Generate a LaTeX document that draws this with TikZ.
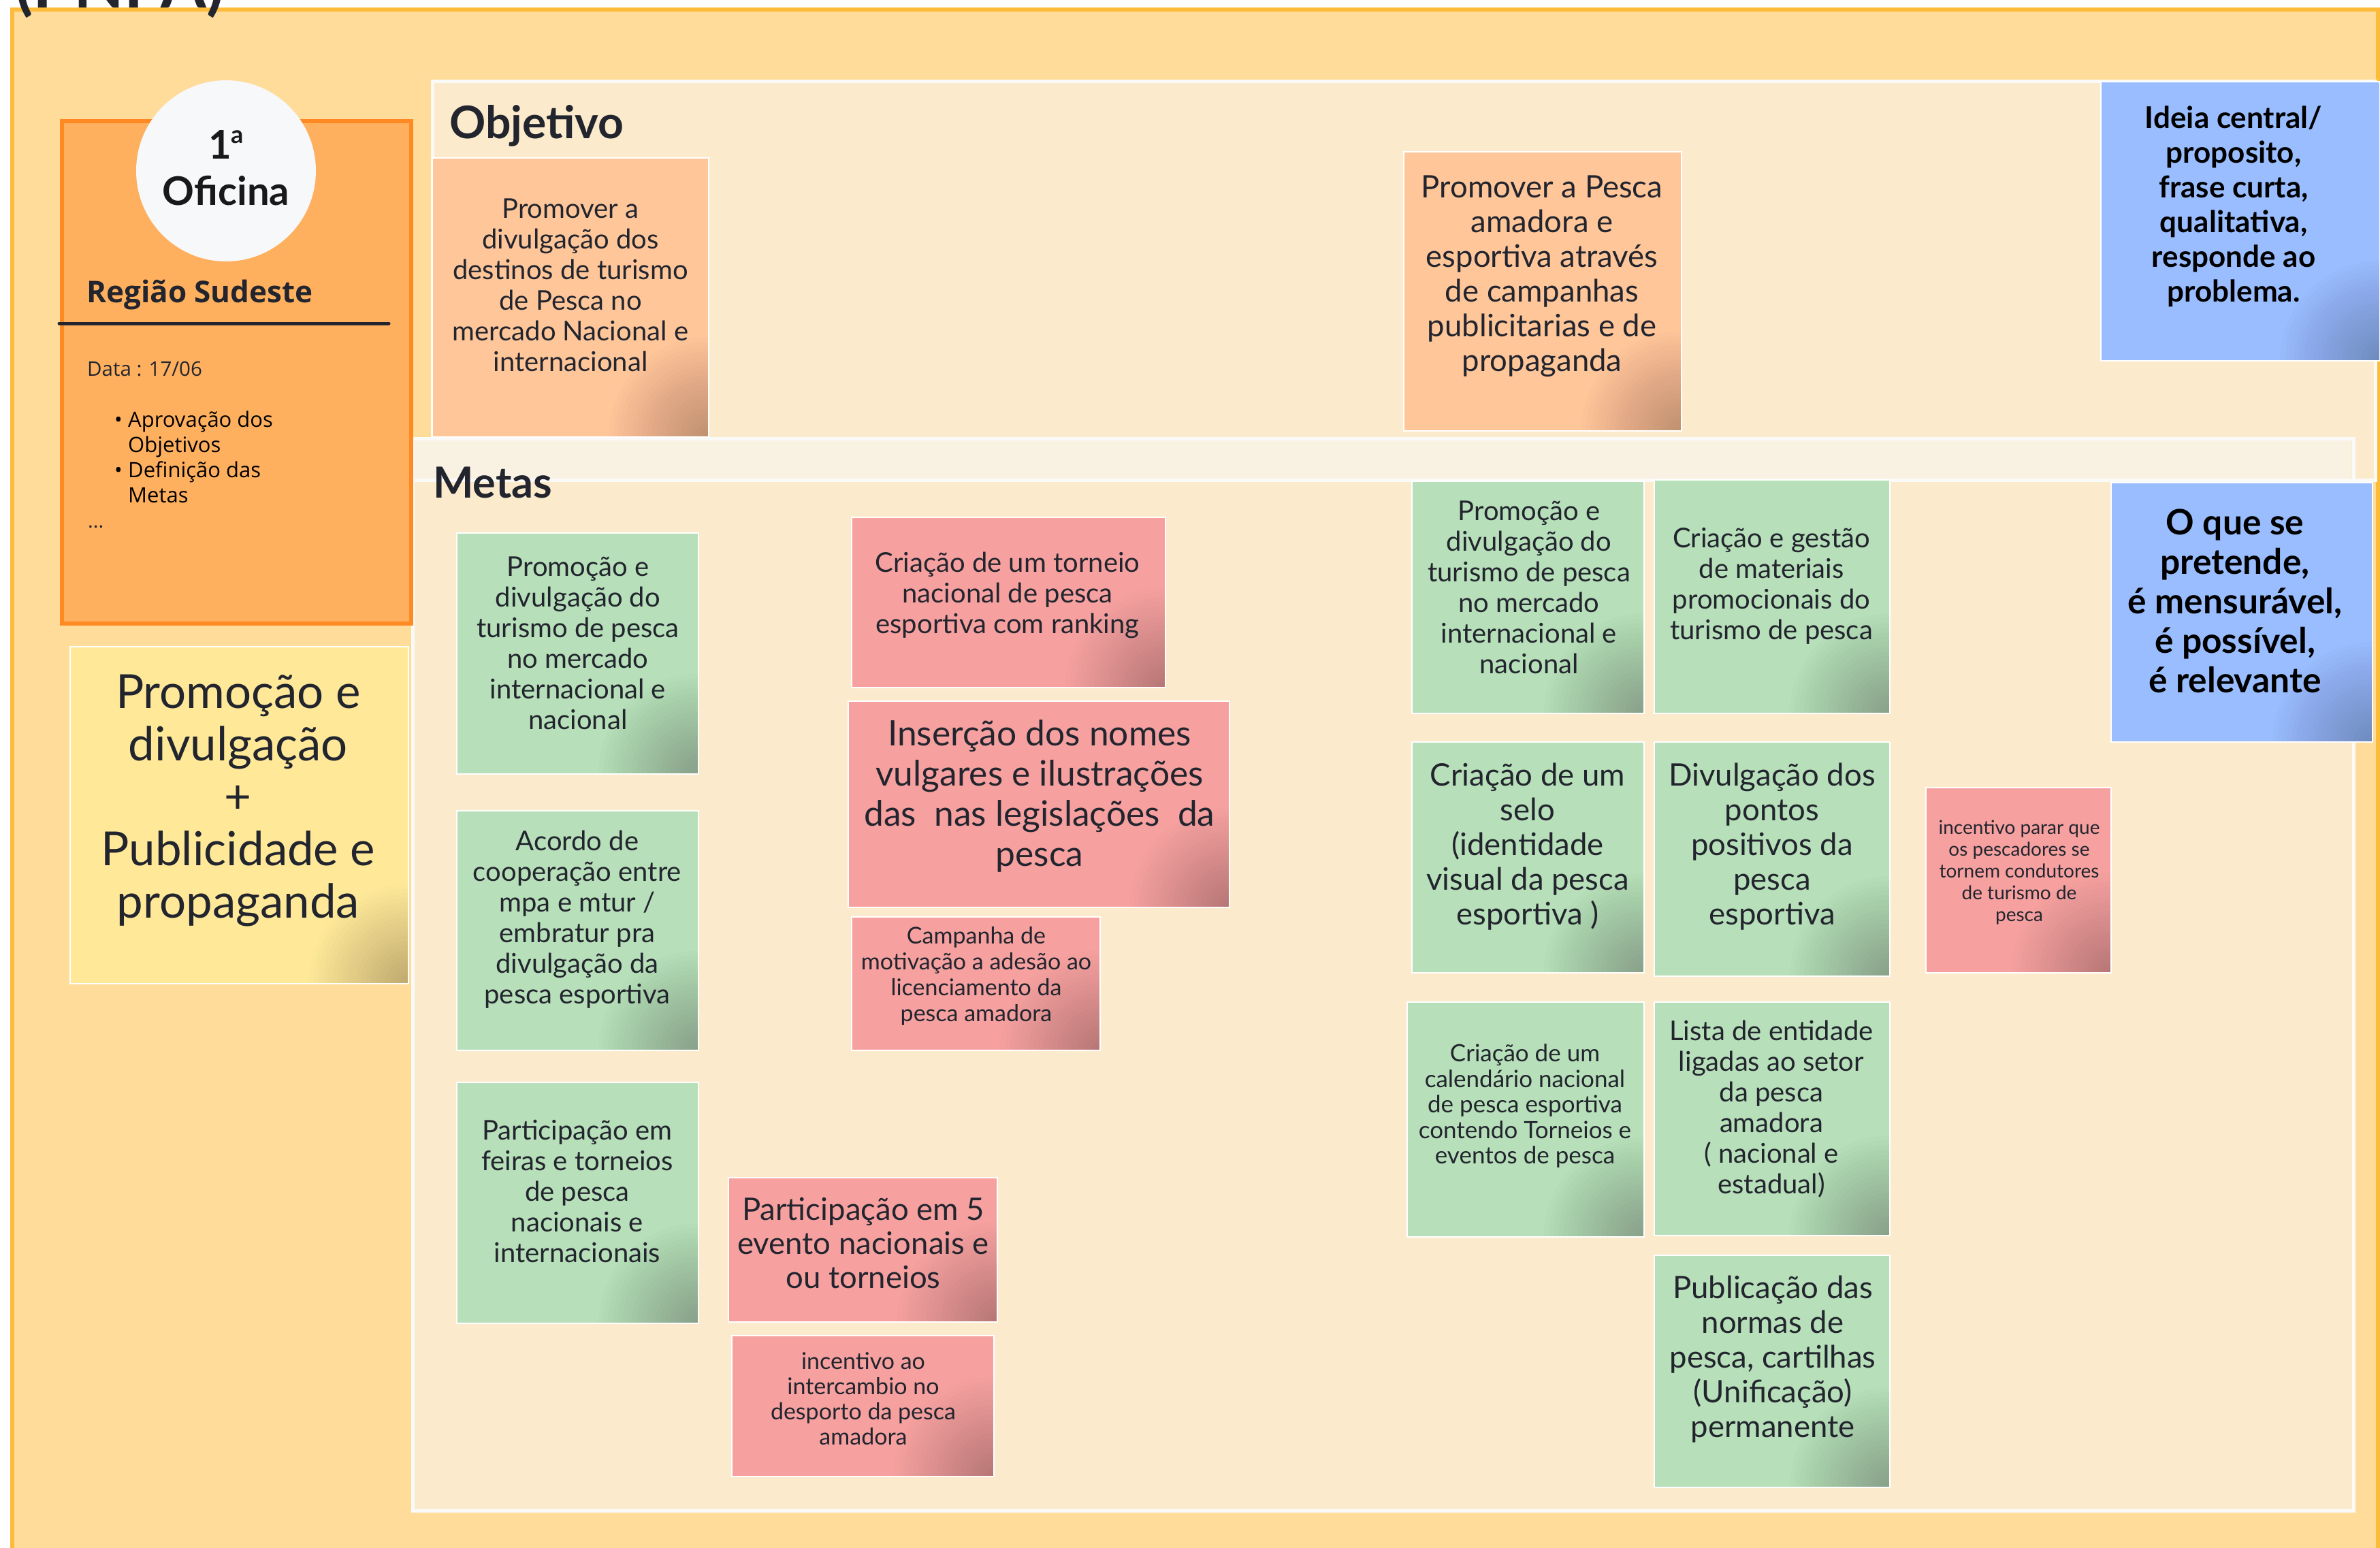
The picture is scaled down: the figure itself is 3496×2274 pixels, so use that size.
\documentclass[tikz,border=0pt]{standalone}
\usepackage{fontspec}
\setmainfont{Lato}
\newfontfamily\opensans{Open Sans}
\usetikzlibrary{positioning,shapes.geometric}
\definecolor{ink}{HTML}{22252E}
\definecolor{outerfill}{HTML}{FFDC9A}
\definecolor{outerline}{HTML}{FDBB3A}
\definecolor{frame}{HTML}{FBEBCC}
\definecolor{band}{HTML}{F9F2E3}
\definecolor{frameline}{HTML}{FAFAF8}
\definecolor{ofifill}{HTML}{FFB05E}
\definecolor{ofiline}{HTML}{FF8A24}
\definecolor{circ}{HTML}{F7F8FA}
\definecolor{yel}{HTML}{FFE999}
\definecolor{peach}{HTML}{FFC69A}
\definecolor{gr}{HTML}{B7DFB9}
\definecolor{rd}{HTML}{F6A1A0}
\definecolor{bl}{HTML}{99BDFE}
\newcommand\fsz[2]{\fontsize{#1}{#2}\selectfont}
\tikzset{
  note/.style={rectangle, draw=white, line width=2.5pt, fill=#1, inner sep=0pt,
    path picture={\foreach \rr in {7,14,...,147}
      {\fill[black, opacity=0.011] (path picture bounding box.south east) circle (\rr pt);}}},
  txt/.style={align=center, text=ink, inner sep=0pt},
}
\begin{document}
\begin{tikzpicture}[x=1pt,y=-1pt]
\useasboundingbox (0,0) rectangle (3496,2274);
\fill[white] (0,0) rectangle (3496,2274);
% outer frame
\draw[fill=outerfill, draw=outerline, line width=6pt] (18,14) rectangle (3493,2300);
% title (cut off by the page edge, as in the reference)
\node[anchor=base west, inner sep=0pt, text=ink, font=\bfseries\fsz{96}{106}] (title) at (22,12) {(PNPA)};
% frames
\draw[fill=frame, draw=frameline, line width=5pt] (635,120) rectangle (3489,705);
\draw[fill=frame, draw=frameline, line width=5pt] (606,644) rectangle (3457,2219);
\fill[band] (609,647) rectangle (3454,703);
\draw[frameline, line width=5pt] (606,705) -- (3489,705);
\node[anchor=west, text=ink, inner sep=0pt, font=\bfseries\fsz{66}{74}] (objlabel) at (660,185) {Objetivo};
\node[anchor=west, text=ink, inner sep=0pt, font=\bfseries\fsz{63}{70}] (metlabel) at (636,709) {Metas};
% oficina panel
\draw[fill=ofifill, draw=ofiline, line width=6pt] (91,178) rectangle (604,916);
\node[ellipse, fill=circ, minimum width=264pt, minimum height=266pt, inner sep=0pt] (circle) at (332,251) {};
\node[txt, text=black!90, font=\bfseries\fsz{58}{68}] (ofi) at (332,247) {1\raisebox{0.40em}{\fsz{36}{36}a}\\Oficina};
\node[anchor=west, inner sep=0pt, text=ink, font=\opensans\bfseries\fsz{44}{52}] (regiao) at (127,433) {Região Sudeste};
\draw[ink, line width=5pt, line cap=round] (87,475) -- (571,475);
\node[anchor=west, inner sep=0pt, text=ink, font=\opensans\fsz{29.5}{35}] (data) at (128,542) {Data : 17/06};
\node[anchor=west, inner sep=0pt, align=left, text=black, font=\opensans\fsz{31}{37}] (bul) at (168,671)
  {\makebox[20pt][l]{•}Aprovação dos\\\hspace*{20pt}Objetivos\\\makebox[20pt][l]{•}Definição das\\\hspace*{20pt}Metas};
\node[anchor=west, inner sep=0pt, text=ink, font=\opensans\fsz{29}{35}] (dots) at (129,774) {...};
% yellow note
\node[note=yel, minimum width=497pt, minimum height=495pt] (yelbox) at (351.5,1197.5) {};
\node[txt, font=\fsz{69}{77}] (yeltxt) at (350,1176) {Promoção e\\divulgação\\+\\Publicidade e\\propaganda};
% objetivo notes
\node[note=peach, minimum width=406pt, minimum height=410pt] (p1) at (838,437) {};
\node[txt, font=\fsz{40}{45}] (p1t) at (838,419) {Promover a\\divulgação dos\\destinos de turismo\\de Pesca no\\mercado Nacional e\\internacional};
\node[note=peach, minimum width=408pt, minimum height=410pt] (p2) at (2266,428) {};
\node[txt, font=\fsz{45.5}{51}] (p2t) at (2265,406) {Promover a Pesca\\amadora e\\esportiva através\\de campanhas\\publicitarias e de\\propaganda};
% blue notes
\node[note=bl, minimum width=410pt, minimum height=410pt] (b1) at (3291,325) {};
\node[txt, text=black, font=\bfseries\fsz{44}{51}] (b1t) at (3281,303) {Ideia central/\\proposito,\\frase curta,\\qualitativa,\\responde ao\\problema.};
\node[note=bl, minimum width=384pt, minimum height=381pt] (b2) at (3293,899.5) {};
\node[txt, text=black, font=\bfseries\fsz{51.5}{58}] (b2t) at (3283,883) {O que se\\pretende,\\é mensurável,\\é possível,\\é relevante};
% metas - left column green
\node[note=gr, minimum width=355pt, minimum height=354pt] (g1) at (848.5,960) {};
\node[txt, font=\fsz{40}{45}] (g1t) at (849,945) {Promoção e\\divulgação do\\turismo de pesca\\no mercado\\internacional e\\nacional};
\node[note=gr, minimum width=355pt, minimum height=352pt] (g2) at (848.5,1367) {};
\node[txt, font=\fsz{40}{45}] (g2t) at (848,1351) {Acordo de\\cooperação entre\\mpa e mtur /\\embratur pra\\divulgação da\\pesca esportiva};
\node[note=gr, minimum width=355pt, minimum height=354pt] (g3) at (848.5,1767) {};
\node[txt, font=\fsz{40}{45}] (g3t) at (848,1750) {Participação em\\feiras e torneios\\de pesca\\nacionais e\\internacionais};
% metas - red
\node[note=rd, minimum width=461pt, minimum height=250pt] (r1) at (1481.5,885) {};
\node[txt, font=\fsz{40}{45}] (r1t) at (1480,874) {Criação de um torneio\\nacional de pesca\\esportiva com ranking};
\node[note=rd, minimum width=560pt, minimum height=303pt] (r2) at (1526,1181.5) {};
\node[txt, font=\fsz{51.5}{59}] (r2t) at (1527,1169) {Inserção dos nomes\\vulgares e ilustrações\\das\ \ nas legislações\ \ da\\pesca};
\node[note=rd, minimum width=365pt, minimum height=196pt] (r3) at (1433.5,1445) {};
\node[txt, font=\fsz{34}{38}] (r3t) at (1434,1434) {Campanha de\\motivação a adesão ao\\licenciamento da\\pesca amadora};
\node[note=rd, minimum width=395pt, minimum height=212pt] (r4) at (1267.5,1836) {};
\node[txt, font=\fsz{45.5}{50}] (r4t) at (1268,1826) {Participação em 5\\evento nacionais e\\ou torneios};
\node[note=rd, minimum width=385pt, minimum height=207pt] (r5) at (1267.5,2065.5) {};
\node[txt, font=\fsz{34}{37}] (r5t) at (1268,2055) {incentivo ao\\intercambio no\\desporto da pesca\\amadora};
\node[note=rd, minimum width=272pt, minimum height=272pt] (r6) at (2965,1293) {};
\node[txt, font=\fsz{28}{32}] (r6t) at (2966,1282) {incentivo parar que\\os pescadores se\\tornem condutores\\de turismo de\\pesca};
% metas - right green grid
\node[note=gr, minimum width=341pt, minimum height=341pt] (g4) at (2244.5,877.5) {};
\node[txt, font=\fsz{40}{45}] (g4t) at (2246,863) {Promoção e\\divulgação do\\turismo de pesca\\no mercado\\internacional e\\nacional};
\node[note=gr, minimum width=346pt, minimum height=343pt] (g5) at (2603,876.5) {};
\node[txt, font=\fsz{40}{45}] (g5t) at (2602,861) {Criação e gestão\\de materiais\\promocionais do\\turismo de pesca};
\node[note=gr, minimum width=341pt, minimum height=339pt] (g6) at (2244.5,1259.5) {};
\node[txt, font=\fsz{45.5}{51}] (g6t) at (2244,1244) {Criação de um\\selo\\(identidade\\visual da pesca\\esportiva )};
\node[note=gr, minimum width=346pt, minimum height=344pt] (g7) at (2603,1262) {};
\node[txt, font=\fsz{45.5}{51}] (g7t) at (2603,1244) {Divulgação dos\\pontos\\positivos da\\pesca\\esportiva};
\node[note=gr, minimum width=348pt, minimum height=345pt] (g8) at (2241,1644.5) {};
\node[txt, font=\fsz{35}{37.5}] (g8t) at (2240,1625) {Criação de um\\calendário nacional\\de pesca esportiva\\contendo Torneios e\\eventos de pesca};
\node[note=gr, minimum width=346pt, minimum height=343pt] (g9) at (2603,1643.5) {};
\node[txt, font=\fsz{40}{45}] (g9t) at (2602,1629) {Lista de entidade\\ligadas ao setor\\da pesca\\amadora\\( nacional e\\estadual)};
\node[note=gr, minimum width=346pt, minimum height=341pt] (g10) at (2603,2014.5) {};
\node[txt, font=\fsz{45.5}{51}] (g10t) at (2604,1997) {Publicação das\\normas de\\pesca, cartilhas\\(Unificação)\\permanente};
\end{tikzpicture}
\end{document}
